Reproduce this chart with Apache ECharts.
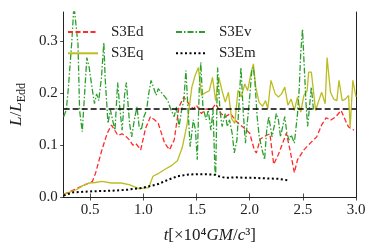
<!DOCTYPE html>
<html>
<head>
<meta charset="utf-8">
<script src="https://cdn.jsdelivr.net/npm/echarts@6/dist/echarts.min.js"></script>
<style>html,body{margin:0;padding:0;background:#fff}#c{width:374px;height:249px}</style>
</head>
<body>
<div id="c"></div>
<script>
// time in units of 10^4 GM/c^3, value L/L_Edd
const S3Ed = [[0.25,0.005],[0.39,0.018],[0.52,0.030],[0.55,0.046],[0.61,0.091],[0.66,0.123],[0.70,0.139],[0.73,0.129],[0.76,0.119],[0.80,0.122],[0.84,0.116],[0.87,0.110],[0.90,0.100],[0.93,0.103],[0.975,0.091],[1.02,0.132],[1.066,0.155],[1.11,0.148],[1.14,0.142],[1.20,0.104],[1.245,0.091],[1.29,0.110],[1.335,0.174],[1.38,0.193],[1.426,0.180],[1.47,0.170],[1.50,0.177],[1.546,0.161],[1.59,0.170],[1.64,0.168],[1.68,0.180],[1.73,0.161],[1.77,0.155],[1.82,0.161],[1.864,0.148],[1.91,0.139],[1.954,0.132],[2.0,0.123],[2.045,0.090],[2.063,0.085],[2.10,0.112],[2.14,0.117],[2.19,0.122],[2.226,0.063],[2.27,0.082],[2.31,0.104],[2.345,0.123],[2.38,0.090],[2.42,0.047],[2.45,0.072],[2.51,0.091],[2.57,0.104],[2.63,0.116],[2.677,0.139],[2.72,0.153],[2.76,0.148],[2.81,0.155],[2.86,0.167],[2.90,0.148],[2.93,0.135],[2.98,0.129]];
const S3Eq = [[0.25,0.005],[0.37,0.014],[0.43,0.022],[0.49,0.027],[0.55,0.028],[0.61,0.030],[0.70,0.027],[0.79,0.027],[0.867,0.024],[0.957,0.016],[1.05,0.018],[1.09,0.040],[1.138,0.045],[1.20,0.053],[1.26,0.060],[1.32,0.070],[1.365,0.095],[1.41,0.139],[1.456,0.212],[1.486,0.234],[1.517,0.250],[1.546,0.196],[1.59,0.202],[1.62,0.205],[1.65,0.231],[1.68,0.186],[1.71,0.231],[1.74,0.205],[1.77,0.183],[1.80,0.202],[1.83,0.151],[1.86,0.142],[1.89,0.206],[1.92,0.193],[1.954,0.218],[1.98,0.205],[2.01,0.237],[2.035,0.257],[2.057,0.212],[2.088,0.183],[2.12,0.175],[2.15,0.186],[2.17,0.170],[2.20,0.225],[2.24,0.199],[2.27,0.193],[2.30,0.199],[2.33,0.212],[2.36,0.177],[2.39,0.189],[2.42,0.167],[2.45,0.193],[2.48,0.164],[2.51,0.196],[2.54,0.205],[2.555,0.241],[2.58,0.241],[2.62,0.167],[2.65,0.186],[2.677,0.202],[2.71,0.180],[2.728,0.269],[2.76,0.202],[2.79,0.189],[2.82,0.186],[2.84,0.225],[2.87,0.186],[2.90,0.189],[2.93,0.196],[2.945,0.135],[2.97,0.225],[3.0,0.193]];
const S3Ev = [[0.25,0.155],[0.275,0.168],[0.295,0.212],[0.325,0.295],[0.347,0.37],[0.365,0.37],[0.385,0.295],[0.40,0.167],[0.425,0.126],[0.447,0.199],[0.468,0.269],[0.49,0.250],[0.516,0.212],[0.54,0.180],[0.56,0.199],[0.58,0.186],[0.606,0.231],[0.628,0.298],[0.64,0.231],[0.667,0.142],[0.69,0.168],[0.71,0.149],[0.733,0.129],[0.758,0.221],[0.78,0.168],[0.80,0.129],[0.824,0.199],[0.84,0.221],[0.87,0.142],[0.89,0.116],[0.915,0.149],[0.94,0.174],[0.96,0.136],[0.98,0.129],[1.005,0.155],[1.03,0.168],[1.05,0.199],[1.072,0.225],[1.095,0.212],[1.12,0.196],[1.14,0.209],[1.18,0.199],[1.23,0.186],[1.26,0.168],[1.29,0.155],[1.31,0.174],[1.335,0.135],[1.36,0.168],[1.38,0.186],[1.40,0.244],[1.42,0.168],[1.44,0.097],[1.47,0.149],[1.49,0.129],[1.507,0.072],[1.525,0.205],[1.54,0.260],[1.56,0.174],[1.59,0.149],[1.61,0.168],[1.635,0.129],[1.655,0.168],[1.673,0.053],[1.68,0.043],[1.698,0.250],[1.72,0.168],[1.74,0.136],[1.77,0.161],[1.79,0.136],[1.81,0.149],[1.835,0.123],[1.855,0.085],[1.88,0.110],[1.90,0.180],[1.918,0.250],[1.94,0.161],[1.96,0.104],[1.98,0.149],[2.0,0.193],[2.02,0.244],[2.035,0.250],[2.05,0.221],[2.07,0.155],[2.09,0.116],[2.117,0.091],[2.14,0.072],[2.16,0.129],[2.18,0.155],[2.21,0.116],[2.23,0.136],[2.25,0.161],[2.27,0.149],[2.29,0.116],[2.31,0.136],[2.33,0.155],[2.35,0.123],[2.37,0.110],[2.39,0.120],[2.42,0.104],[2.45,0.161],[2.465,0.206],[2.48,0.277],[2.497,0.324],[2.51,0.265],[2.53,0.180],[2.545,0.136],[2.56,0.168],[2.58,0.212],[2.60,0.168]];
const S3Em = [[0.25,0.003],[0.34,0.009],[0.43,0.010],[0.52,0.011],[0.70,0.012],[0.85,0.014],[1.0,0.018],[1.14,0.025],[1.23,0.033],[1.32,0.040],[1.41,0.043],[1.50,0.044],[1.59,0.044],[1.67,0.043],[1.71,0.040],[1.77,0.037],[1.86,0.038],[1.95,0.037],[2.03,0.037],[2.15,0.036],[2.27,0.035],[2.37,0.032]];
const refLine = [[0.25,0.17],[3.0,0.17]];
const xTicks = [0.5,1.0,1.5,2.0,2.5,3.0];
const yTicks = [0.0,0.1,0.2,0.3];

const FONT = "'Liberation Serif','DejaVu Serif',serif";
const TXT = '#222';
const chart = echarts.init(document.getElementById('c'), null, {renderer:'canvas'});
const axisLine = {show:true, lineStyle:{color:'#222', width:1}};
const tick = {show:true, inside:false, length:3.5, lineStyle:{color:'#222', width:0.8}};
const legendBase = {orient:'vertical', padding:0, itemGap:6.3, itemWidth:30, itemHeight:14,
  itemStyle:{color:'transparent', borderColor:'transparent', borderWidth:0},
  textStyle:{fontFamily:FONT, fontSize:15, lineHeight:15, color:TXT, padding:[0,0,0,8]}};
chart.setOption({
  animation:false,
  backgroundColor:'#fff',
  grid:{left:52, right:18, top:12, bottom:49.5},
  legend:[
    {...legendBase, left:67, top:24.5, data:['S3Ed','S3Eq']},
    {...legendBase, left:175, top:24.5, data:['S3Ev','S3Em']}
  ],
  xAxis:[
    {type:'value', min:0.25, max:3.0, position:'bottom',
     axisLine, axisTick:{...tick, customValues:xTicks}, splitLine:{show:false},
     axisLabel:{customValues:xTicks, formatter:v=>v.toFixed(1), margin:6, fontFamily:FONT, fontSize:15, color:TXT},
     name:'{i|t}[×10⁴{i|GM}/{i|c}³]', nameLocation:'middle', nameGap:30,
     nameTextStyle:{fontFamily:FONT, fontSize:17, color:TXT, rich:{i:{fontFamily:FONT, fontSize:17, fontStyle:'italic', color:TXT}}}},
    {type:'value', min:0.25, max:3.0, position:'top',
     axisLine, axisTick:{...tick, customValues:xTicks}, axisLabel:{show:false}, splitLine:{show:false}}
  ],
  yAxis:[
    {type:'value', min:0, max:0.357, position:'left',
     axisLine, axisTick:{...tick, customValues:yTicks}, splitLine:{show:false},
     axisLabel:{customValues:yTicks, formatter:v=>v.toFixed(1), margin:6, fontFamily:FONT, fontSize:15, color:TXT},
     name:'{i|L}/{i|L}{s|Edd}', nameLocation:'middle', nameGap:29,
     nameTextStyle:{fontFamily:FONT, fontSize:17, color:TXT, rich:{
       i:{fontFamily:FONT, fontSize:17, fontStyle:'italic', color:TXT, lineHeight:23},
       s:{fontFamily:FONT, fontSize:12, color:TXT, lineHeight:12, verticalAlign:'bottom'}}}},
    {type:'value', min:0, max:0.357, position:'right',
     axisLine, axisTick:{show:false}, axisLabel:{show:false}, splitLine:{show:false}}
  ],
  series:[
    {name:'S3Ed', type:'line', data:S3Ed, showSymbol:false, symbol:'none', color:'#ff2a2a',
     lineStyle:{color:'#ff2a2a', width:1.3, type:[5,2.5]}},
    {name:'S3Eq', type:'line', data:S3Eq, showSymbol:false, symbol:'none', color:'#bcbd22',
     lineStyle:{color:'#bcbd22', width:1.3}},
    {name:'S3Ev', type:'line', data:S3Ev, showSymbol:false, symbol:'none', color:'#2ca02c',
     lineStyle:{color:'#2ca02c', width:1.3, type:[6,2,1.5,2]}},
    {name:'S3Em', type:'line', data:S3Em, showSymbol:false, symbol:'none', color:'#000',
     lineStyle:{color:'#000', width:2, type:[2,2.5]}},
    {name:'ref', type:'line', data:refLine, showSymbol:false, symbol:'none', color:'#000',
     lineStyle:{color:'#000', width:1.5, type:[6,3]}, z:5}
  ]
});
</script>
</body>
</html>
